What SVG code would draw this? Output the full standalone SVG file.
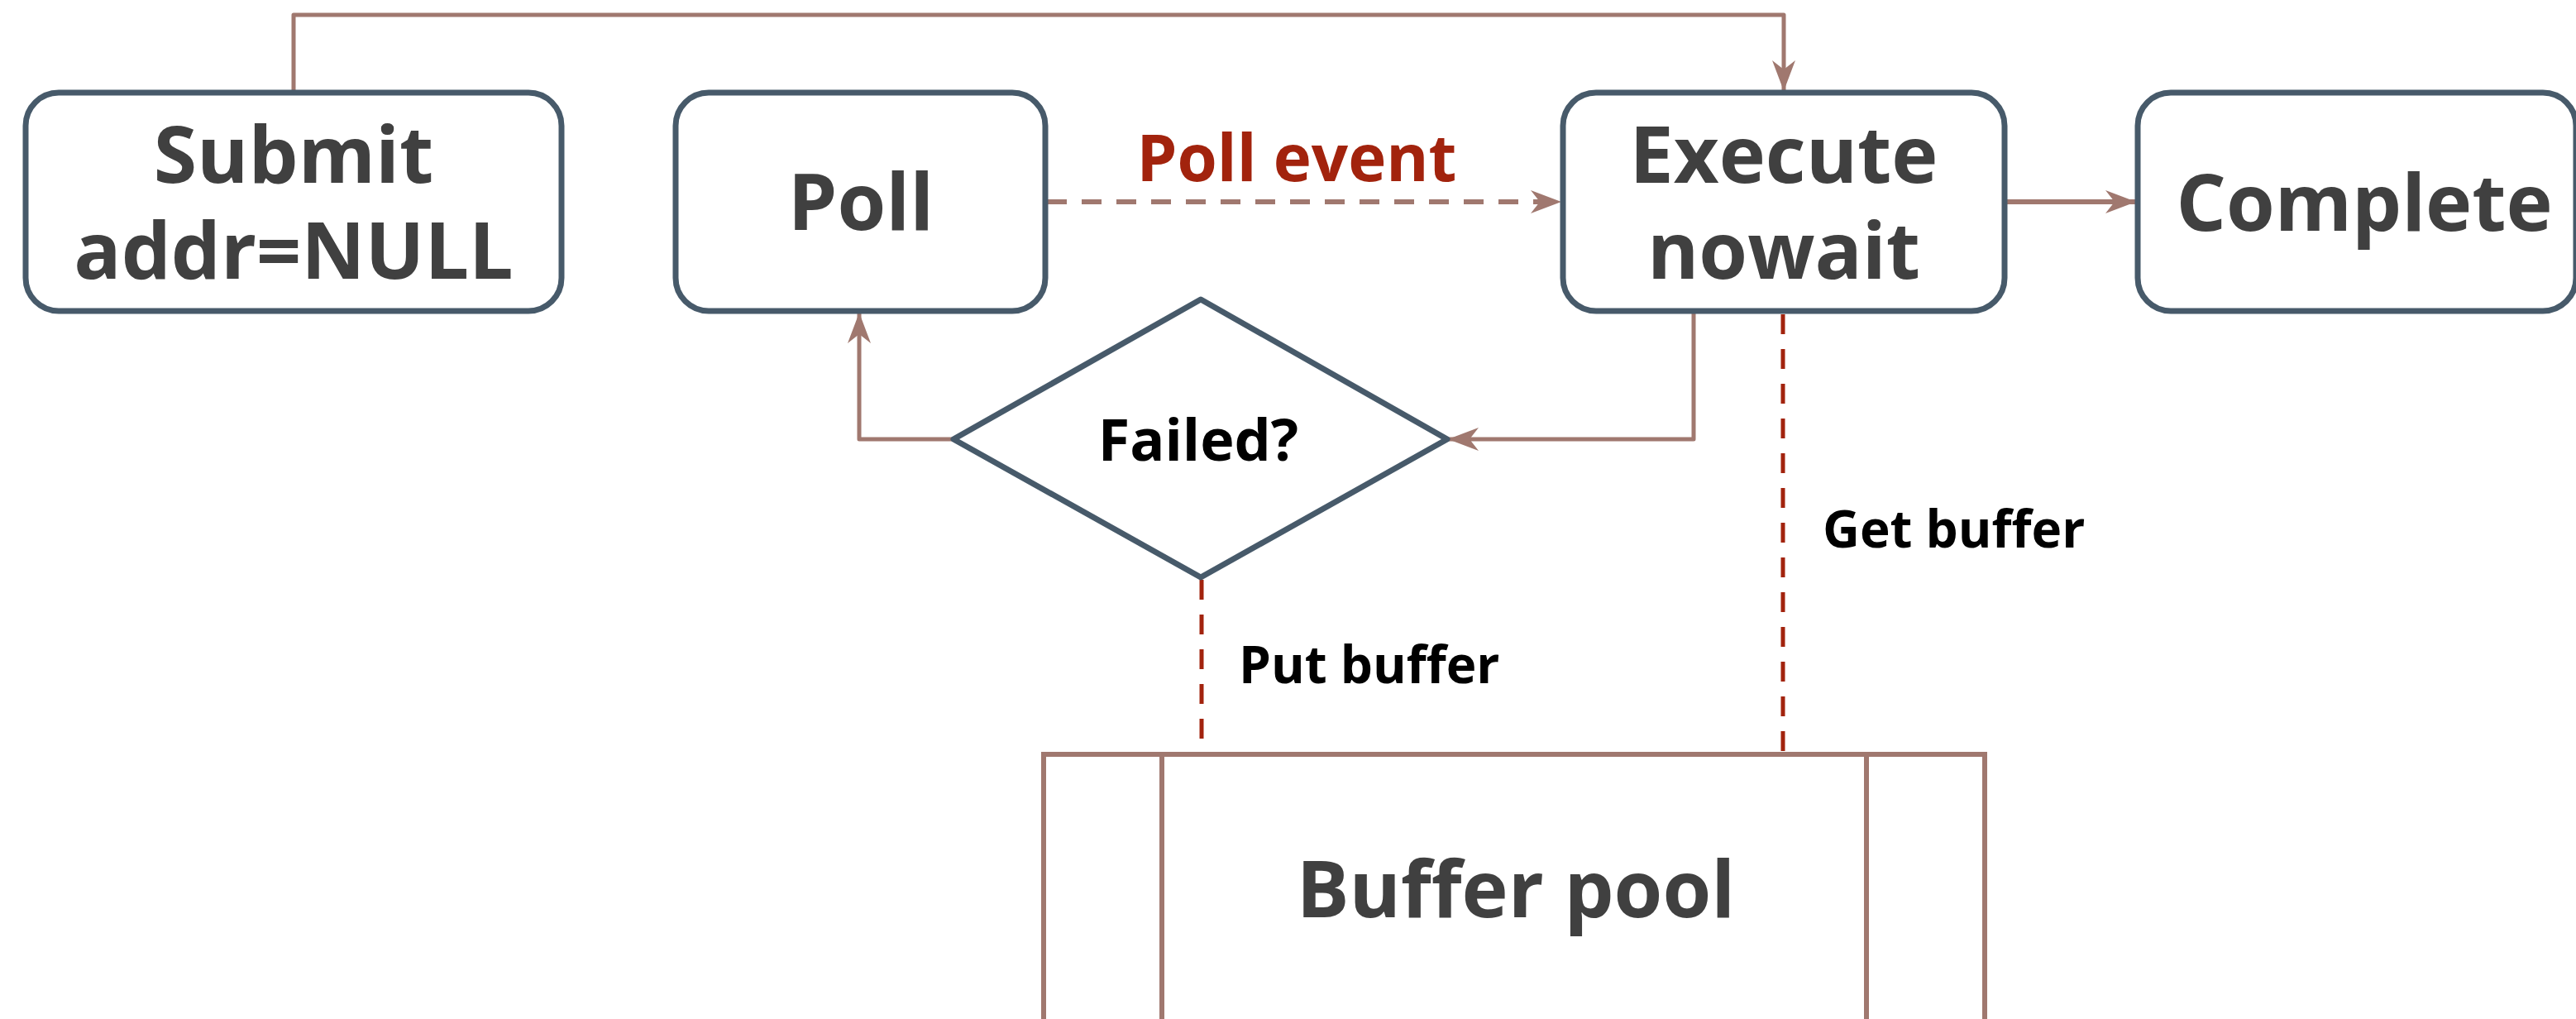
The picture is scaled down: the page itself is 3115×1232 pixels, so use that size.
<svg xmlns="http://www.w3.org/2000/svg" width="3115" height="1232" viewBox="0 0 3115 1232">
  <style>
    .box { fill: #ffffff; stroke: #475a6a; stroke-width: 7; }
    .lbl { font-family: "Open Sans", "Liberation Sans", sans-serif; font-weight: 700; fill: #404040; font-size: 95px; text-anchor: middle; }
    .small { font-family: "Open Sans", "Liberation Sans", sans-serif; font-weight: 700; fill: #000000; }
    .flow { fill: none; stroke: #a0786f; stroke-width: 5; stroke-linejoin: round; }
    .thick { stroke-width: 6; }
    .dash { stroke-dasharray: 24 18; }
    .link { fill: none; stroke: #a2230d; stroke-width: 5; stroke-dasharray: 24 18; }
    .pool { fill: none; stroke: #a0786f; stroke-width: 6; }
  </style>
  <defs>
    <marker id="arrow" markerUnits="userSpaceOnUse" markerWidth="40" markerHeight="32" viewBox="-38 -15 40 30" refX="0" refY="0" orient="auto">
      <path d="M0,0 L-37,-14 L-26,0 L-37,14 Z" fill="#a0786f"/>
    </marker>
  </defs>

  <rect width="3115" height="1232" fill="#ffffff"/>

  <!-- connectors -->
  <g id="connectors">
    <path class="flow" d="M355,109 V18 H2157 V110" marker-end="url(#arrow)"/>
    <path class="flow thick dash" d="M1266,244 H1888" marker-end="url(#arrow)"/>
    <path class="flow thick" d="M2424,244 H2583" marker-end="url(#arrow)"/>
    <path class="flow" d="M2048,379 V531 H1751" marker-end="url(#arrow)"/>
    <path class="flow" d="M1153,531 H1039 V378" marker-end="url(#arrow)"/>
    <path class="link" d="M2156,380 V912"/>
    <path class="link" d="M1453,701 V912"/>
    <text class="small" x="2204" y="662" font-size="62">Get buffer</text>
    <text class="small" x="1498" y="826" font-size="62">Put buffer</text>
    <text x="1568" y="219" font-family="'Open Sans', 'Liberation Sans', sans-serif" font-weight="700" font-size="78" fill="#a2230d" text-anchor="middle">Poll event</text>
  </g>

  <g id="submit">
    <rect class="box" x="31" y="112" width="648" height="264" rx="40"/>
    <text class="lbl" x="355" y="221">Submit</text>
    <text class="lbl" x="355" y="337">addr=NULL</text>
  </g>

  <g id="poll">
    <rect class="box" x="817" y="112" width="447" height="264" rx="40"/>
    <text class="lbl" x="1041" y="278">Poll</text>
  </g>

  <g id="execute">
    <rect class="box" x="1890" y="112" width="534" height="264" rx="40"/>
    <text class="lbl" x="2157" y="221">Execute</text>
    <text class="lbl" x="2157" y="337">nowait</text>
  </g>

  <g id="complete">
    <rect class="box" x="2585" y="112" width="530" height="264" rx="40"/>
    <text class="lbl" x="2859" y="279">Complete</text>
  </g>

  <g id="failed">
    <polygon class="box" stroke-linejoin="round" points="1452,362 1750,531 1452,698 1153,531"/>
    <text class="small" x="1449" y="557" font-size="70" text-anchor="middle">Failed?</text>
  </g>

  <g id="buffer-pool">
    <path class="pool" d="M1262,1240 V912 H2400 V1240"/>
    <path class="pool" d="M1405,912 V1240 M2257,912 V1240"/>
    <text class="lbl" x="1833" y="1109">Buffer pool</text>
  </g>
</svg>
